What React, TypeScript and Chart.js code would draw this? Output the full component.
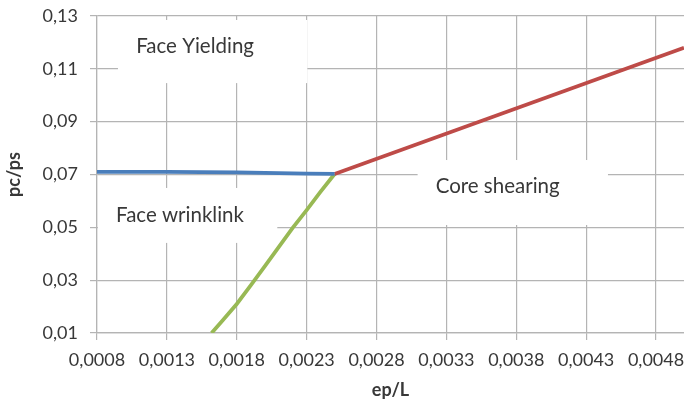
import React, { useEffect, useRef } from "react";
import { Chart, registerables } from "chart.js";

Chart.register(...registerables);

const xTicks = [0.0008, 0.0013, 0.0018, 0.0023, 0.0028, 0.0033, 0.0038, 0.0043, 0.0048];
const yTicks = [0.01, 0.03, 0.05, 0.07, 0.09, 0.11, 0.13];

const blueX = [0.0008, 0.0013, 0.0018, 0.0023, 0.0025];
const blueY = [0.071, 0.071, 0.0708, 0.0703, 0.0702];

const redX = [0.0025, 0.005];
const redY = [0.0702, 0.118];

const greenX = [0.00162, 0.0017, 0.0018, 0.0019, 0.002, 0.0021, 0.0022, 0.0023, 0.0024, 0.0025];
const greenY = [0.01, 0.0148, 0.021, 0.028, 0.0352, 0.0425, 0.0498, 0.0565, 0.0635, 0.0702];

const labelTexts = ["Face Yielding", "Face wrinklink", "Core shearing"];
const labelX = [0.00108, 0.000936, 0.003223];
const labelY = [0.1186, 0.0547, 0.0656];
const boxX1 = [0.00095, 0.0008, 0.003094];
const boxX2 = [0.002305, 0.00209, 0.004456];
const boxY1 = [0.1285, 0.0649, 0.07548];
const boxY2 = [0.1046, 0.0441, 0.05088];

const FONT = "Lato, 'Open Sans', sans-serif";
const TEXT = "#383838";

const zip = (xs: number[], ys: number[]) => xs.map((x, i) => ({ x, y: ys[i] }));

const labelPlugin = {
  id: "regionLabels",
  beforeDatasetsDraw(chart: any) {
    const { ctx, scales, chartArea } = chart;
    const xs = scales.x;
    const ys = scales.y;
    ctx.save();
    ctx.fillStyle = "#ffffff";
    for (let i = 0; i < labelTexts.length; i++) {
      const l = Math.max(xs.getPixelForValue(boxX1[i]), chartArea.left + 1);
      const r = xs.getPixelForValue(boxX2[i]);
      const t = ys.getPixelForValue(boxY1[i]);
      const b = ys.getPixelForValue(boxY2[i]);
      ctx.fillRect(l, t, r - l, b - t);
    }
    ctx.fillStyle = TEXT;
    ctx.font = `20.5px ${FONT}`;
    ctx.textAlign = "left";
    ctx.textBaseline = "middle";
    for (let i = 0; i < labelTexts.length; i++) {
      ctx.fillText(labelTexts[i], xs.getPixelForValue(labelX[i]), ys.getPixelForValue(labelY[i]));
    }
    ctx.restore();
  },
};

export default function App() {
  const ref = useRef<HTMLCanvasElement>(null);
  useEffect(() => {
    document.body.style.margin = "0";
    const chart = new Chart(ref.current!, {
      type: "scatter",
      data: {
        datasets: [
          { data: zip(blueX, blueY), borderColor: "#4a7ebb", borderWidth: 3.8, showLine: true, pointRadius: 0 },
          { data: zip(redX, redY), borderColor: "#be4b48", borderWidth: 3.8, showLine: true, pointRadius: 0 },
          { data: zip(greenX, greenY), borderColor: "#98b954", borderWidth: 3.8, showLine: true, pointRadius: 0, tension: 0 },
        ],
      },
      options: {
        animation: false,
        responsive: false,
        layout: { padding: { left: 0, right: 0, top: 16, bottom: 0 } },
        plugins: { legend: { display: false }, tooltip: { enabled: false } },
        scales: {
          x: {
            type: "linear",
            min: 0.0008,
            max: 0.005,
            afterBuildTicks: (s: any) => { s.ticks = xTicks.map((v) => ({ value: v })); },
            afterFit: (s: any) => { s.height = 68; s.paddingLeft = 0; s.paddingRight = 0; },
            ticks: {
              autoSkip: false,
              maxRotation: 0,
              padding: 9,
              color: TEXT,
              font: { family: FONT, size: 18 },
              callback: (v: any) => Number(v).toFixed(4).replace(".", ","),
            },
            grid: { color: "#b4b4b4", lineWidth: 1.2, tickLength: 7 },
            border: { color: "#b4b4b4", width: 1.2 },
            title: { display: true, text: "ep/L", color: TEXT, font: { family: FONT, size: 18, weight: "bold" }, padding: { top: 0, bottom: 0 } },
          },
          y: {
            type: "linear",
            min: 0.01,
            max: 0.13,
            afterBuildTicks: (s: any) => { s.ticks = yTicks.map((v) => ({ value: v })); },
            afterFit: (s: any) => { s.width = 97; s.paddingTop = 0; s.paddingBottom = 0; },
            ticks: {
              padding: 12,
              color: TEXT,
              font: { family: FONT, size: 18 },
              callback: (v: any) => Number(v).toFixed(2).replace(".", ","),
            },
            grid: { color: "#b4b4b4", lineWidth: 1.2, tickLength: 7 },
            border: { color: "#b4b4b4", width: 1.2 },
            title: { display: true, text: "pc/ps", color: TEXT, font: { family: FONT, size: 18, weight: "bold" }, padding: { top: 3, bottom: 0 } },
          },
        },
      },
      plugins: [labelPlugin],
    } as any);
    return () => chart.destroy();
  }, []);
  return <canvas ref={ref} width={684} height={401} style={{ display: "block" }} />;
}
